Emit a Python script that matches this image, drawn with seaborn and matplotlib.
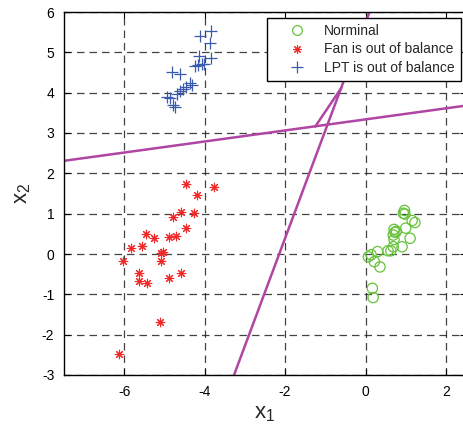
import matplotlib
matplotlib.use("Agg")
import matplotlib.pyplot as plt
from matplotlib.lines import Line2D
import seaborn as sns
import pandas as pd

# ---- data ----
normal_x = [0.97, 0.98, 0.94, 1.23, 1.16, 1.00, 0.71, 0.73, 0.77, 0.69, 1.11, 0.71,
            0.69, 0.91, 0.56, 0.63, 0.30, 0.14, 0.07, 0.22, 0.36, 0.17, 0.19]
normal_y = [1.08, 0.99, 1.01, 0.78, 0.83, 0.64, 0.61, 0.54, 0.56, 0.47, 0.39, 0.36,
            0.18, 0.18, 0.08, 0.08, 0.06, -0.02, -0.07, -0.19, -0.32, -0.85, -1.08]

fan_x = [-4.47, -4.18, -3.78, -4.58, -4.79, -4.26, -4.47, -5.46, -5.25, -4.90, -4.71, -5.55,
         -5.83, -5.04, -5.09, -6.03, -5.09, -5.63, -5.63, -5.44, -4.90, -4.59, -5.12, -6.12]
fan_y = [1.73, 1.46, 1.65, 1.03, 0.92, 1.01, 0.65, 0.49, 0.39, 0.42, 0.45, 0.20,
         0.14, 0.06, 0.02, -0.17, -0.17, -0.46, -0.66, -0.72, -0.59, -0.48, -1.69, -2.47]

lpt_x = [-4.11, -3.84, -3.86, -4.15, -3.84, -4.25, -4.17, -4.07, -4.01, -4.81, -4.62,
         -4.36, -4.31, -4.46, -4.54, -4.62, -4.69, -4.94, -4.87, -4.79, -4.73]
lpt_y = [5.41, 5.53, 5.24, 4.90, 4.85, 4.66, 4.69, 4.70, 4.72, 4.52, 4.46,
         4.23, 4.19, 4.15, 4.09, 4.04, 3.97, 3.90, 3.86, 3.70, 3.65]

# decision boundaries (end points)
b1_x = [-7.5, 2.5]
b1_y = [2.31, 3.68]
b2_x = [-3.27, 0.10]
b2_y = [-3.0, 6.0]
b3_x = [-1.25, -0.60]
b3_y = [3.16, 4.12]

labels = ["Norminal", "Fan is out of balance", "LPT is out of balance"]
xticks = [-6, -4, -2, 0, 2]
yticks = [-3, -2, -1, 0, 1, 2, 3, 4, 5, 6]

# ---- style ----
sns.set_theme(style="white")
plt.rcParams["font.family"] = ["Liberation Sans", "DejaVu Sans"]

green = "#66c23a"
red = "#f02828"
blue = "#3a5aad"
mag = "#b045a3"

fig = plt.figure(figsize=(4.64, 4.25), dpi=100)
ax = fig.add_axes([64 / 464, 50 / 425, (466 - 64) / 464, (375 - 12) / 425])

sns.scatterplot(x=normal_x, y=normal_y, ax=ax, marker="o", s=55,
                facecolors="none", edgecolor=green, linewidth=0.9, zorder=3)
ax.collections[-1].set_facecolor("none")
ax.collections[-1].set_edgecolor(green)
sns.scatterplot(x=fan_x, y=fan_y, ax=ax, marker=(8, 2, 0), s=38,
                color=red, edgecolor=red, linewidth=0.8, zorder=3)
sns.scatterplot(x=lpt_x, y=lpt_y, ax=ax, marker="+", s=80,
                color=blue, linewidth=0.9, zorder=3)

for bx, by in [(b1_x, b1_y), (b2_x, b2_y), (b3_x, b3_y)]:
    sns.lineplot(x=bx, y=by, ax=ax, color=mag, linewidth=1.8, zorder=2,
                 estimator=None, sort=False)

ax.set_xlim(-7.5, 2.5)
ax.set_ylim(-3, 6)
ax.set_xticks(xticks)
ax.set_yticks(yticks)
ax.set_xticklabels([str(t) for t in xticks])
ax.set_yticklabels([str(t) for t in yticks])
ax.tick_params(direction="in", length=4, width=0.8, labelsize=10, colors="black",
               top=True, right=True, bottom=True, left=True, pad=7)
ax.grid(True, color="#222222", linestyle=(0, (6, 4)), linewidth=0.9, alpha=0.85)
for s in ax.spines.values():
    s.set_color("black")
    s.set_linewidth(1.0)

ax.set_xlabel(r"$\mathregular{x_1}$", fontsize=16, labelpad=3)
ax.set_ylabel(r"$\mathregular{x_2}$", fontsize=16, labelpad=6)

handles = [
    Line2D([], [], linestyle="none", marker="o", markerfacecolor="none",
           markeredgecolor=green, markersize=7, markeredgewidth=0.9),
    Line2D([], [], linestyle="none", marker=(8, 2, 0), color=red,
           markersize=6, markeredgewidth=0.8),
    Line2D([], [], linestyle="none", marker="+", color=blue,
           markersize=8, markeredgewidth=0.9),
]
leg = ax.legend(handles, labels, loc="upper right", bbox_to_anchor=(460 / 466, 1 - 6 / 363),
                fontsize=10, frameon=True, fancybox=False, borderpad=0.45,
                handlelength=3.45, handletextpad=0.2, labelspacing=0.3, borderaxespad=0)
leg.get_frame().set_edgecolor("black")
leg.get_frame().set_linewidth(1.0)
leg.get_frame().set_alpha(1)

fig.savefig("out.png", dpi=100)
